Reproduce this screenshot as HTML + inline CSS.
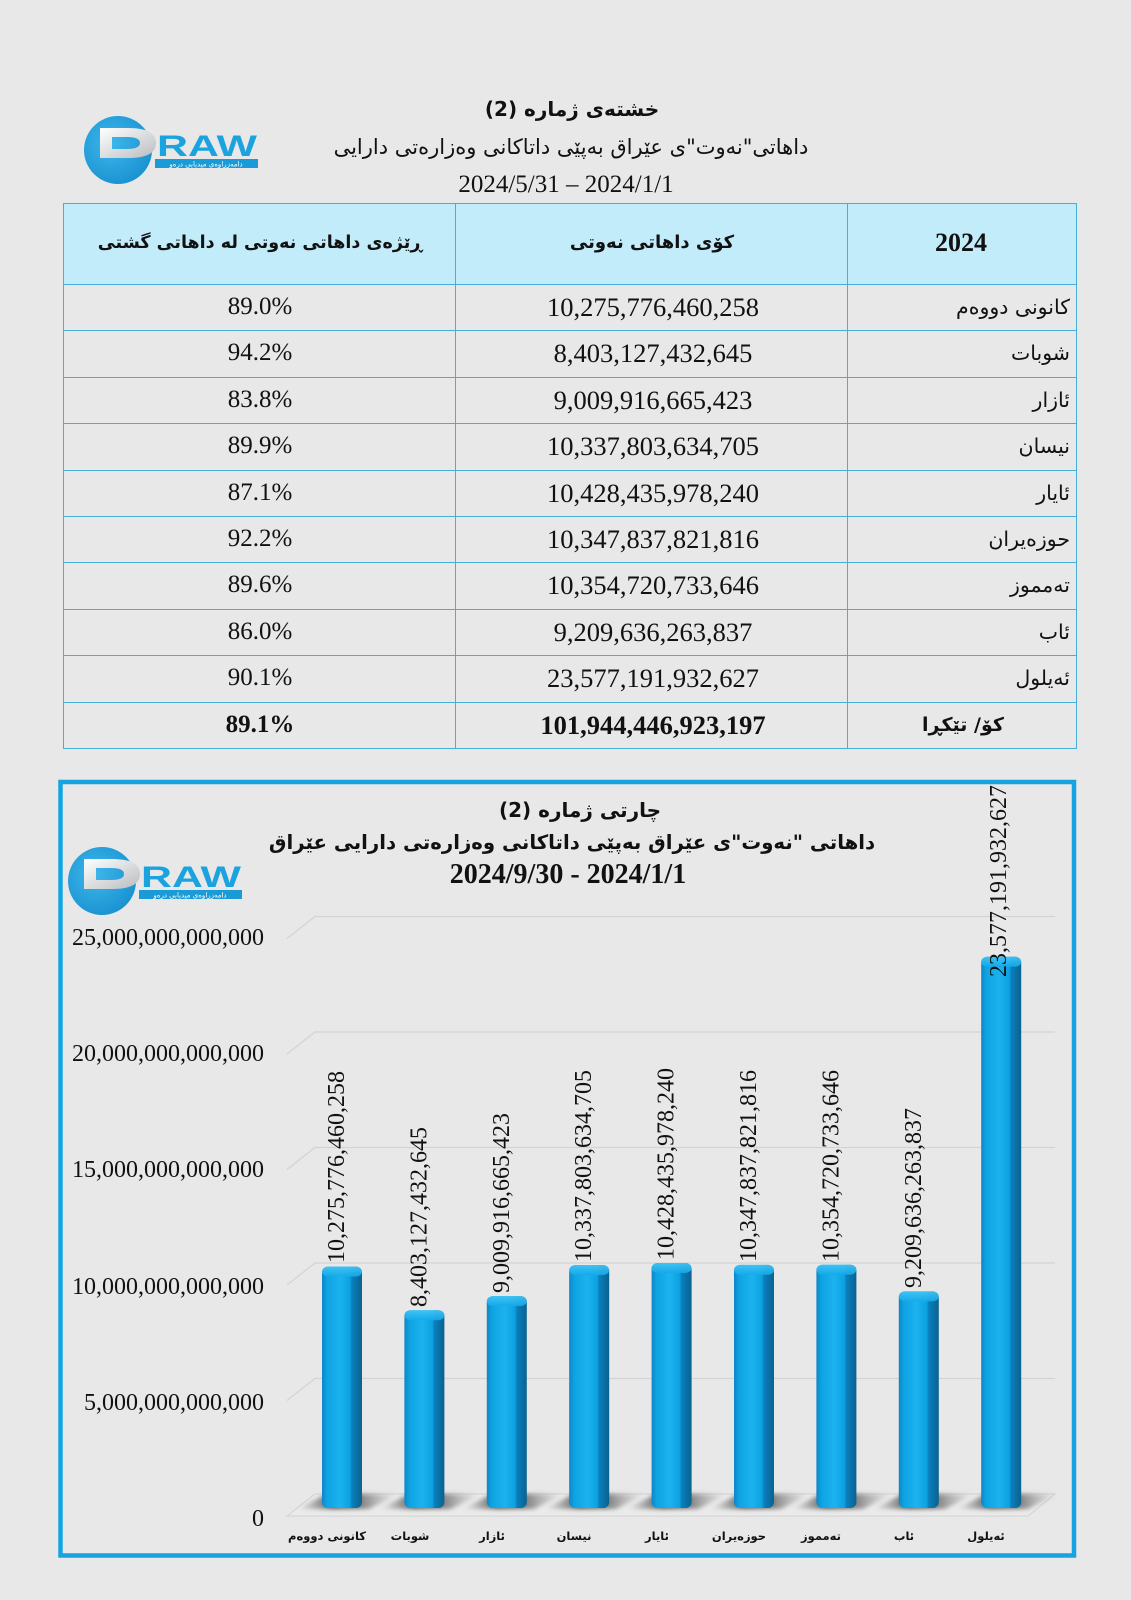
<!DOCTYPE html>
<html><head><meta charset="utf-8">
<style>
*{margin:0;padding:0;box-sizing:border-box}
html,body{width:1131px;height:1600px;background:#e8e8e8;overflow:hidden}
body{position:relative;font-family:"Liberation Serif","DejaVu Sans",serif;color:#111}
.t{position:absolute;white-space:nowrap}
.ar{font-family:"DejaVu Sans",sans-serif}
.ctr{transform:translateX(-50%)}
.hl{position:absolute;background:#45aedb;height:1px}
.vl{position:absolute;background:#45aedb;width:1px}
.num{font-family:"Liberation Serif",serif;font-size:26.5px;line-height:30px}
.pct{font-family:"Liberation Serif",serif;font-size:25px;line-height:30px}
.mon{font-family:"DejaVu Sans",sans-serif;font-size:20.5px;line-height:30px;direction:rtl}
</style></head>
<body>

<svg class="t" style="left:0;top:0" width="1131" height="1600" viewBox="0 0 1131 1600">
  <defs>
    <radialGradient id="lc" cx="0.4" cy="0.4" r="0.7">
      <stop offset="0" stop-color="#3fb6ea"/><stop offset="1" stop-color="#168fcf"/>
    </radialGradient>
    <linearGradient id="dg" x1="0" y1="0" x2="1" y2="1">
      <stop offset="0" stop-color="#ffffff"/><stop offset="1" stop-color="#b9bcc0"/>
    </linearGradient>
    <linearGradient id="sh" x1="0" y1="0" x2="1" y2="0">
      <stop offset="0" stop-color="#777" stop-opacity="0"/>
      <stop offset="0.35" stop-color="#333" stop-opacity="0.85"/>
      <stop offset="0.6" stop-color="#444" stop-opacity="0.7"/>
      <stop offset="1" stop-color="#888" stop-opacity="0"/>
    </linearGradient>
    <filter id="bl" x="-20%" y="-50%" width="140%" height="200%"><feGaussianBlur stdDeviation="2"/></filter>
    <g id="logo">
      <circle cx="118" cy="150" r="34" fill="url(#lc)"/>
      <path d="M100 128 H128 Q156 128 156 143 Q156 158 128 158 H100 Z M112 137 V149 H127 Q140 149 140 143 Q140 137 127 137 Z" fill="url(#dg)" fill-rule="evenodd"/>
      <text x="157" y="156" font-family="Liberation Sans" font-weight="bold" font-size="30" fill="#1aa3df" textLength="100" lengthAdjust="spacingAndGlyphs">RAW</text>
      <rect x="155" y="159" width="103" height="9" fill="#1a9ad6"/>
      <text x="206" y="166.5" font-family="DejaVu Sans" font-size="7" fill="#fff" text-anchor="middle">دامەزراوەی میدیایی درەو</text>
    </g>
  </defs>
  <use href="#logo"/>
  <use href="#logo" transform="translate(-16,731)"/>

  <rect x="60.5" y="782" width="1013.5" height="773.5" fill="none" stroke="#16a3df" stroke-width="4.5"/>

  <polygon points="287,1516 315,1494 1055,1494 1028,1516" fill="#ebebeb" stroke="#d2d2d2" stroke-width="1"/>
  <g stroke="#d3d3d3" stroke-width="1.2" fill="none">
    <path d="M287 1400.5 L315 1378.5 H1055"/>
    <path d="M287 1285 L315 1263 H1055"/>
    <path d="M287 1169.5 L315 1147.5 H1055"/>
    <path d="M287 1054 L315 1032 H1055"/>
    <path d="M287 938.5 L315 916.5 H1055"/>
  </g>

  <g font-family="Liberation Serif" font-size="24" fill="#111" text-anchor="end">
    <text x="264" y="1526">0</text>
    <text x="264" y="1410">5,000,000,000,000</text>
    <text x="264" y="1294">10,000,000,000,000</text>
    <text x="264" y="1177">15,000,000,000,000</text>
    <text x="264" y="1061">20,000,000,000,000</text>
    <text x="264" y="945">25,000,000,000,000</text>
  </g>

  <g filter="url(#bl)">
    <polygon points="297,1509 327,1494 399,1494 369,1509" fill="url(#sh)"/>
    <polygon points="379,1509 409,1494 481,1494 451,1509" fill="url(#sh)"/>
    <polygon points="462,1509 492,1494 564,1494 534,1509" fill="url(#sh)"/>
    <polygon points="544,1509 574,1494 646,1494 616,1509" fill="url(#sh)"/>
    <polygon points="626,1509 656,1494 728,1494 698,1509" fill="url(#sh)"/>
    <polygon points="709,1509 739,1494 811,1494 781,1509" fill="url(#sh)"/>
    <polygon points="791,1509 821,1494 893,1494 863,1509" fill="url(#sh)"/>
    <polygon points="873,1509 903,1494 975,1494 945,1509" fill="url(#sh)"/>
    <polygon points="956,1509 986,1494 1058,1494 1028,1509" fill="url(#sh)"/>
  </g>
</svg>

<svg class="t" style="left:0;top:0" width="1131" height="1600" viewBox="0 0 1131 1600">
  <defs>
    <linearGradient id="front2" x1="0" y1="0" x2="1" y2="0">
      <stop offset="0" stop-color="#0c86c6"/>
      <stop offset="0.12" stop-color="#0ea2e2"/>
      <stop offset="0.45" stop-color="#1bb3ef"/>
      <stop offset="0.7" stop-color="#0ca1e0"/>
      <stop offset="0.75" stop-color="#0a7fbd"/>
      <stop offset="1" stop-color="#0a628f"/>
    </linearGradient>
    <linearGradient id="cap2" x1="0" y1="0" x2="0" y2="1">
      <stop offset="0" stop-color="#42c6f6"/><stop offset="1" stop-color="#16a9e8"/>
    </linearGradient>
  </defs>
  <g>
    <rect x="322" y="1266.6" width="40" height="241.4" rx="6" fill="url(#front2)"/>
    <rect x="322" y="1266.6" width="40" height="10" rx="6" fill="url(#cap2)" opacity="0.9"/>
    <rect x="404.4" y="1310.2" width="40" height="197.8" rx="6" fill="url(#front2)"/>
    <rect x="404.4" y="1310.2" width="40" height="10" rx="6" fill="url(#cap2)" opacity="0.9"/>
    <rect x="486.8" y="1296.1" width="40" height="211.9" rx="6" fill="url(#front2)"/>
    <rect x="486.8" y="1296.1" width="40" height="10" rx="6" fill="url(#cap2)" opacity="0.9"/>
    <rect x="569.2" y="1265.1" width="40" height="242.9" rx="6" fill="url(#front2)"/>
    <rect x="569.2" y="1265.1" width="40" height="10" rx="6" fill="url(#cap2)" opacity="0.9"/>
    <rect x="651.6" y="1263.0" width="40" height="245" rx="6" fill="url(#front2)"/>
    <rect x="651.6" y="1263.0" width="40" height="10" rx="6" fill="url(#cap2)" opacity="0.9"/>
    <rect x="734" y="1264.9" width="40" height="243.1" rx="6" fill="url(#front2)"/>
    <rect x="734" y="1264.9" width="40" height="10" rx="6" fill="url(#cap2)" opacity="0.9"/>
    <rect x="816.4" y="1264.7" width="40" height="243.3" rx="6" fill="url(#front2)"/>
    <rect x="816.4" y="1264.7" width="40" height="10" rx="6" fill="url(#cap2)" opacity="0.9"/>
    <rect x="898.8" y="1291.4" width="40" height="216.6" rx="6" fill="url(#front2)"/>
    <rect x="898.8" y="1291.4" width="40" height="10" rx="6" fill="url(#cap2)" opacity="0.9"/>
    <rect x="981.2" y="956.7" width="40" height="551.3" rx="6" fill="url(#front2)"/>
    <rect x="981.2" y="956.7" width="40" height="10" rx="6" fill="url(#cap2)" opacity="0.9"/>
  </g>

  <g font-family="Liberation Serif" font-size="24" fill="#111">
    <text transform="translate(344,1263) rotate(-90)">10,275,776,460,258</text>
    <text transform="translate(426.4,1307) rotate(-90)">8,403,127,432,645</text>
    <text transform="translate(508.8,1293) rotate(-90)">9,009,916,665,423</text>
    <text transform="translate(591.2,1262) rotate(-90)">10,337,803,634,705</text>
    <text transform="translate(673.6,1260) rotate(-90)">10,428,435,978,240</text>
    <text transform="translate(756,1262) rotate(-90)">10,347,837,821,816</text>
    <text transform="translate(838.4,1262) rotate(-90)">10,354,720,733,646</text>
    <text transform="translate(920.8,1288) rotate(-90)">9,209,636,263,837</text>
    <text transform="translate(1006,977) rotate(-90)">23,577,191,932,627</text>
  </g>

  <g font-family="DejaVu Sans" font-weight="bold" font-size="11.5" fill="#111" text-anchor="middle">
    <text x="327" y="1540">کانونی دووەم</text>
    <text x="410" y="1540">شوبات</text>
    <text x="492" y="1540">ئازار</text>
    <text x="574" y="1540">نیسان</text>
    <text x="657" y="1540">ئایار</text>
    <text x="739" y="1540">حوزەیران</text>
    <text x="821" y="1540">تەمموز</text>
    <text x="904" y="1540">ئاب</text>
    <text x="986" y="1540">ئەیلول</text>
  </g>
</svg>

<!-- top titles -->
<div class="t ar ctr" dir="rtl" style="left:572px;top:95px;font-size:20px;font-weight:bold;line-height:28px">خشتەی ژمارە (2)</div>
<div class="t ar ctr" dir="rtl" style="left:571px;top:133px;font-size:21px;line-height:28px">داهاتی"نەوت"ی عێراق بەپێی داتاکانی وەزارەتی دارایی</div>
<div class="t ctr" dir="ltr" style="left:566px;top:170px;font-size:25px;line-height:30px">2024/5/31 – 2024/1/1</div>

<!-- table -->
<div class="t" style="left:63px;top:203px;width:1013px;height:81px;background:#c3ecfb"></div>
<div class="hl" style="left:63px;top:203px;width:1014px"></div>
<div class="hl" style="left:63px;top:284px;width:1014px"></div>
<div class="hl" style="left:63px;top:330px;width:1014px"></div>
<div class="hl" style="left:63px;top:377px;width:1014px"></div>
<div class="hl" style="left:63px;top:423px;width:1014px"></div>
<div class="hl" style="left:63px;top:470px;width:1014px"></div>
<div class="hl" style="left:63px;top:516px;width:1014px"></div>
<div class="hl" style="left:63px;top:562px;width:1014px"></div>
<div class="hl" style="left:63px;top:609px;width:1014px"></div>
<div class="hl" style="left:63px;top:655px;width:1014px"></div>
<div class="hl" style="left:63px;top:702px;width:1014px"></div>
<div class="hl" style="left:63px;top:748px;width:1014px"></div>
<div class="vl" style="left:63px;top:203px;height:546px"></div>
<div class="vl" style="left:455px;top:203px;height:546px"></div>
<div class="vl" style="left:847px;top:203px;height:546px"></div>
<div class="vl" style="left:1076px;top:203px;height:546px"></div>

<div class="t ctr" style="left:961px;top:228px;font-size:26px;font-weight:bold;line-height:30px">2024</div>
<div class="t ar ctr" dir="rtl" style="left:652px;top:229px;font-size:18px;font-weight:bold;line-height:28px">کۆی داهاتی نەوتی</div>
<div class="t ar ctr" dir="rtl" style="left:260px;top:229px;font-size:17.5px;font-weight:bold;line-height:28px">ڕێژەی داهاتی نەوتی لە داهاتی گشتی</div>

<div class="t mon" style="right:61px;top:292px">کانونی دووەم</div>
<div class="t mon" style="right:61px;top:338px">شوبات</div>
<div class="t mon" style="right:61px;top:385px">ئازار</div>
<div class="t mon" style="right:61px;top:431px">نیسان</div>
<div class="t mon" style="right:61px;top:478px">ئایار</div>
<div class="t mon" style="right:61px;top:524px">حوزەیران</div>
<div class="t mon" style="right:61px;top:570px">تەمموز</div>
<div class="t mon" style="right:61px;top:617px">ئاب</div>
<div class="t mon" style="right:61px;top:663px">ئەیلول</div>
<div class="t ar ctr" dir="rtl" style="left:963px;top:710px;font-size:19px;font-weight:bold;line-height:30px">کۆ/ تێکڕا</div>

<div class="t num ctr" style="left:653px;top:292px">10,275,776,460,258</div>
<div class="t num ctr" style="left:653px;top:338px">8,403,127,432,645</div>
<div class="t num ctr" style="left:653px;top:385px">9,009,916,665,423</div>
<div class="t num ctr" style="left:653px;top:431px">10,337,803,634,705</div>
<div class="t num ctr" style="left:653px;top:478px">10,428,435,978,240</div>
<div class="t num ctr" style="left:653px;top:524px">10,347,837,821,816</div>
<div class="t num ctr" style="left:653px;top:570px">10,354,720,733,646</div>
<div class="t num ctr" style="left:653px;top:617px">9,209,636,263,837</div>
<div class="t num ctr" style="left:653px;top:663px">23,577,191,932,627</div>
<div class="t num ctr" style="left:653px;top:710px;font-weight:bold">101,944,446,923,197</div>

<div class="t pct ctr" style="left:260px;top:292px">89.0%</div>
<div class="t pct ctr" style="left:260px;top:338px">94.2%</div>
<div class="t pct ctr" style="left:260px;top:385px">83.8%</div>
<div class="t pct ctr" style="left:260px;top:431px">89.9%</div>
<div class="t pct ctr" style="left:260px;top:478px">87.1%</div>
<div class="t pct ctr" style="left:260px;top:524px">92.2%</div>
<div class="t pct ctr" style="left:260px;top:570px">89.6%</div>
<div class="t pct ctr" style="left:260px;top:617px">86.0%</div>
<div class="t pct ctr" style="left:260px;top:663px">90.1%</div>
<div class="t pct ctr" style="left:260px;top:710px;font-weight:bold">89.1%</div>

<!-- chart titles -->
<div class="t ar ctr" dir="rtl" style="left:580px;top:796px;font-size:20px;font-weight:bold;line-height:28px">چارتی ژمارە (2)</div>
<div class="t ar ctr" dir="rtl" style="left:572px;top:829px;font-size:19.7px;font-weight:bold;line-height:28px">داهاتی "نەوت"ی عێراق بەپێی داتاکانی وەزارەتی دارایی عێراق</div>
<div class="t ctr" dir="ltr" style="left:568px;top:860px;font-size:28px;font-weight:bold;line-height:30px">2024/9/30 - 2024/1/1</div>

</body></html>
